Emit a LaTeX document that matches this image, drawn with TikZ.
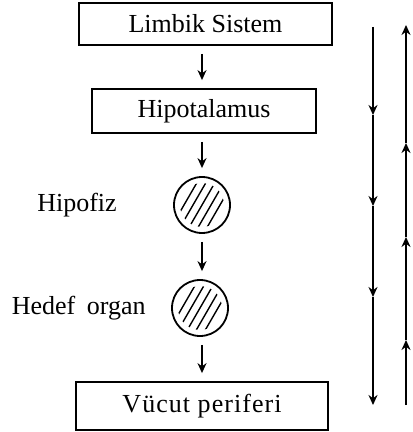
\documentclass[tikz,border=0pt]{standalone}
\usepackage{fontspec}
\setmainfont{Liberation Serif}
\usetikzlibrary{arrows.meta,positioning}

\begin{document}
\begin{tikzpicture}[x=0.5pt,y=-0.5pt,
    box/.style={draw, line width=0.9pt, minimum height=21pt, inner sep=0pt, font=\fontsize{13}{15}\selectfont},
    gland/.style={draw, circle, line width=0.9pt, minimum size=28pt, inner sep=0pt},
    lbl/.style={inner sep=0pt, font=\fontsize{13}{15}\selectfont},
    flow/.style={-{Stealth[length=5pt,width=4.5pt]}, line width=0.8pt, shorten <=4pt, shorten >=4pt},
    feed/.style={-{Stealth[length=5pt,width=4.5pt]}, line width=0.8pt}]
        \useasboundingbox (0,0) rectangle (412,432);

        % kutular ve bezler
        \node[box, minimum width=126.5pt] (limbik) at (205.5,24) {Limbik Sistem};
        \node[box, minimum width=112pt, minimum height=22pt] (hipot) at (204,111) {Hipotalamus};
        \node[gland] (hipof) at (202,205) {};
        \node[gland] (hedef) at (200,308) {};
        \node[box, minimum width=126pt, minimum height=24pt] (vucut) at (202,406) {\addfontfeature{LetterSpace=4}Vücut periferi};

        % etiketler
        \node[lbl, left=28pt of hipof] (hipofLbl) {Hipofiz};
        \node[lbl, left=12.5pt of hedef] (hedefLbl) {Hedef\hspace{0.45em}organ};

        % taramalar
        \foreach \c in {hipof,hedef}{
            \begin{scope}
                \clip (\c.center) circle (11pt);
                \foreach \k in {-18,-9,0,9,18}
                    \draw[line width=0.7pt] ([xshift=\k*0.5pt]\c.center) ++(-20,34.6) -- ++(40,-69.2);
            \end{scope}
        }

        % oklar
        \draw[flow] (limbik.south -| hipof) -- (hipot.north -| hipof);
        \draw[flow] (hipot.south -| hipof) -- (hipof.north);
        \draw[flow] (hipof.south) -- (hedef.north -| hipof);
        \draw[flow] (hedef.south -| hipof) -- (vucut.north -| hipof);

        % sag taraftaki oklar
        \coordinate (d0) at (373,27);
        \coordinate (d1) at (373,115);
        \coordinate (d2) at (373,206);
        \coordinate (d3) at (373,297);
        \coordinate (d4) at (373,405);
        \coordinate (u0) at (406,405);
        \coordinate (u1) at (406,340);
        \coordinate (u2) at (406,237);
        \coordinate (u3) at (406,143);
        \coordinate (u4) at (406,25);
        \foreach \a/\b in {d0/d1,d1/d2,d2/d3,d3/d4,u0/u1,u1/u2,u2/u3,u3/u4}
            \draw[feed] (\a) -- (\b);

\end{tikzpicture}
\end{document}
